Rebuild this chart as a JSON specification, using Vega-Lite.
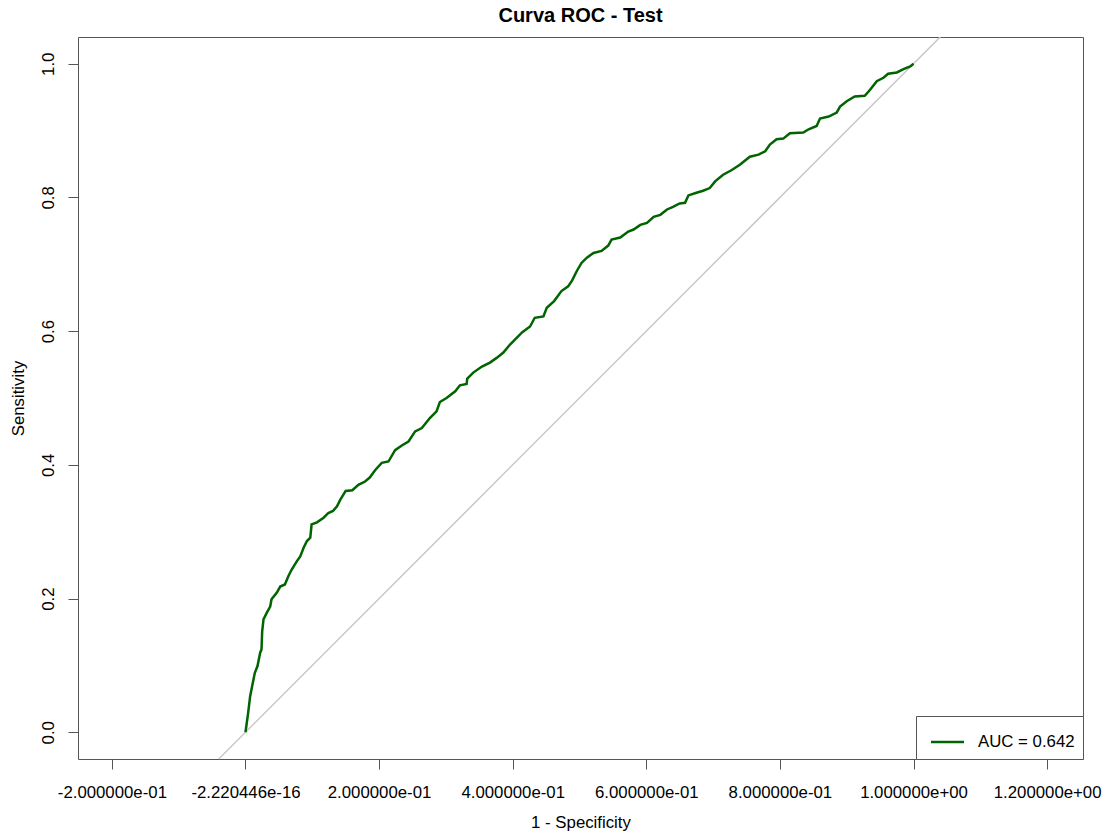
{
  "$schema": "https://vega.github.io/schema/vega-lite/v6.json",
  "width": 1005,
  "height": 722,
  "autosize": {"type": "none"},
  "padding": {"left": 78, "top": 37, "right": 27, "bottom": 73},
  "background": "white",
  "title": {"text": "Curva ROC - Test", "font": "Liberation Sans", "fontSize": 20, "fontWeight": "bold", "color": "#000000", "anchor": "middle", "offset": 8},
  "datasets": {
    "roc": [
      {"x": 0, "y": 0, "s": "AUC = 0.642"},
      {"x": 0.004, "y": 0.029, "s": "AUC = 0.642"},
      {"x": 0.007, "y": 0.054, "s": "AUC = 0.642"},
      {"x": 0.011, "y": 0.074, "s": "AUC = 0.642"},
      {"x": 0.014, "y": 0.089, "s": "AUC = 0.642"},
      {"x": 0.018, "y": 0.099, "s": "AUC = 0.642"},
      {"x": 0.022, "y": 0.119, "s": "AUC = 0.642"},
      {"x": 0.024, "y": 0.124, "s": "AUC = 0.642"},
      {"x": 0.025, "y": 0.151, "s": "AUC = 0.642"},
      {"x": 0.027, "y": 0.169, "s": "AUC = 0.642"},
      {"x": 0.032, "y": 0.179, "s": "AUC = 0.642"},
      {"x": 0.037, "y": 0.188, "s": "AUC = 0.642"},
      {"x": 0.039, "y": 0.199, "s": "AUC = 0.642"},
      {"x": 0.047, "y": 0.209, "s": "AUC = 0.642"},
      {"x": 0.052, "y": 0.218, "s": "AUC = 0.642"},
      {"x": 0.059, "y": 0.221, "s": "AUC = 0.642"},
      {"x": 0.064, "y": 0.233, "s": "AUC = 0.642"},
      {"x": 0.069, "y": 0.243, "s": "AUC = 0.642"},
      {"x": 0.077, "y": 0.256, "s": "AUC = 0.642"},
      {"x": 0.082, "y": 0.263, "s": "AUC = 0.642"},
      {"x": 0.087, "y": 0.276, "s": "AUC = 0.642"},
      {"x": 0.092, "y": 0.286, "s": "AUC = 0.642"},
      {"x": 0.097, "y": 0.291, "s": "AUC = 0.642"},
      {"x": 0.099, "y": 0.311, "s": "AUC = 0.642"},
      {"x": 0.107, "y": 0.314, "s": "AUC = 0.642"},
      {"x": 0.117, "y": 0.321, "s": "AUC = 0.642"},
      {"x": 0.124, "y": 0.328, "s": "AUC = 0.642"},
      {"x": 0.131, "y": 0.331, "s": "AUC = 0.642"},
      {"x": 0.137, "y": 0.338, "s": "AUC = 0.642"},
      {"x": 0.142, "y": 0.348, "s": "AUC = 0.642"},
      {"x": 0.150, "y": 0.361, "s": "AUC = 0.642"},
      {"x": 0.160, "y": 0.362, "s": "AUC = 0.642"},
      {"x": 0.169, "y": 0.370, "s": "AUC = 0.642"},
      {"x": 0.179, "y": 0.375, "s": "AUC = 0.642"},
      {"x": 0.186, "y": 0.381, "s": "AUC = 0.642"},
      {"x": 0.194, "y": 0.392, "s": "AUC = 0.642"},
      {"x": 0.204, "y": 0.403, "s": "AUC = 0.642"},
      {"x": 0.214, "y": 0.405, "s": "AUC = 0.642"},
      {"x": 0.224, "y": 0.422, "s": "AUC = 0.642"},
      {"x": 0.234, "y": 0.429, "s": "AUC = 0.642"},
      {"x": 0.244, "y": 0.435, "s": "AUC = 0.642"},
      {"x": 0.254, "y": 0.450, "s": "AUC = 0.642"},
      {"x": 0.264, "y": 0.455, "s": "AUC = 0.642"},
      {"x": 0.276, "y": 0.470, "s": "AUC = 0.642"},
      {"x": 0.286, "y": 0.480, "s": "AUC = 0.642"},
      {"x": 0.291, "y": 0.494, "s": "AUC = 0.642"},
      {"x": 0.301, "y": 0.500, "s": "AUC = 0.642"},
      {"x": 0.314, "y": 0.510, "s": "AUC = 0.642"},
      {"x": 0.321, "y": 0.519, "s": "AUC = 0.642"},
      {"x": 0.331, "y": 0.521, "s": "AUC = 0.642"},
      {"x": 0.332, "y": 0.529, "s": "AUC = 0.642"},
      {"x": 0.341, "y": 0.538, "s": "AUC = 0.642"},
      {"x": 0.354, "y": 0.547, "s": "AUC = 0.642"},
      {"x": 0.366, "y": 0.553, "s": "AUC = 0.642"},
      {"x": 0.376, "y": 0.560, "s": "AUC = 0.642"},
      {"x": 0.386, "y": 0.568, "s": "AUC = 0.642"},
      {"x": 0.396, "y": 0.580, "s": "AUC = 0.642"},
      {"x": 0.403, "y": 0.587, "s": "AUC = 0.642"},
      {"x": 0.414, "y": 0.598, "s": "AUC = 0.642"},
      {"x": 0.426, "y": 0.607, "s": "AUC = 0.642"},
      {"x": 0.433, "y": 0.620, "s": "AUC = 0.642"},
      {"x": 0.446, "y": 0.622, "s": "AUC = 0.642"},
      {"x": 0.451, "y": 0.635, "s": "AUC = 0.642"},
      {"x": 0.462, "y": 0.645, "s": "AUC = 0.642"},
      {"x": 0.473, "y": 0.660, "s": "AUC = 0.642"},
      {"x": 0.483, "y": 0.667, "s": "AUC = 0.642"},
      {"x": 0.489, "y": 0.676, "s": "AUC = 0.642"},
      {"x": 0.496, "y": 0.690, "s": "AUC = 0.642"},
      {"x": 0.503, "y": 0.702, "s": "AUC = 0.642"},
      {"x": 0.511, "y": 0.710, "s": "AUC = 0.642"},
      {"x": 0.521, "y": 0.717, "s": "AUC = 0.642"},
      {"x": 0.533, "y": 0.720, "s": "AUC = 0.642"},
      {"x": 0.543, "y": 0.728, "s": "AUC = 0.642"},
      {"x": 0.548, "y": 0.737, "s": "AUC = 0.642"},
      {"x": 0.561, "y": 0.740, "s": "AUC = 0.642"},
      {"x": 0.573, "y": 0.749, "s": "AUC = 0.642"},
      {"x": 0.581, "y": 0.752, "s": "AUC = 0.642"},
      {"x": 0.591, "y": 0.759, "s": "AUC = 0.642"},
      {"x": 0.601, "y": 0.762, "s": "AUC = 0.642"},
      {"x": 0.611, "y": 0.771, "s": "AUC = 0.642"},
      {"x": 0.621, "y": 0.774, "s": "AUC = 0.642"},
      {"x": 0.631, "y": 0.782, "s": "AUC = 0.642"},
      {"x": 0.640, "y": 0.786, "s": "AUC = 0.642"},
      {"x": 0.650, "y": 0.791, "s": "AUC = 0.642"},
      {"x": 0.658, "y": 0.792, "s": "AUC = 0.642"},
      {"x": 0.663, "y": 0.803, "s": "AUC = 0.642"},
      {"x": 0.675, "y": 0.807, "s": "AUC = 0.642"},
      {"x": 0.685, "y": 0.810, "s": "AUC = 0.642"},
      {"x": 0.695, "y": 0.814, "s": "AUC = 0.642"},
      {"x": 0.703, "y": 0.824, "s": "AUC = 0.642"},
      {"x": 0.715, "y": 0.834, "s": "AUC = 0.642"},
      {"x": 0.728, "y": 0.841, "s": "AUC = 0.642"},
      {"x": 0.740, "y": 0.849, "s": "AUC = 0.642"},
      {"x": 0.755, "y": 0.861, "s": "AUC = 0.642"},
      {"x": 0.768, "y": 0.864, "s": "AUC = 0.642"},
      {"x": 0.778, "y": 0.869, "s": "AUC = 0.642"},
      {"x": 0.785, "y": 0.879, "s": "AUC = 0.642"},
      {"x": 0.795, "y": 0.887, "s": "AUC = 0.642"},
      {"x": 0.805, "y": 0.888, "s": "AUC = 0.642"},
      {"x": 0.815, "y": 0.896, "s": "AUC = 0.642"},
      {"x": 0.835, "y": 0.897, "s": "AUC = 0.642"},
      {"x": 0.843, "y": 0.902, "s": "AUC = 0.642"},
      {"x": 0.855, "y": 0.907, "s": "AUC = 0.642"},
      {"x": 0.860, "y": 0.918, "s": "AUC = 0.642"},
      {"x": 0.873, "y": 0.921, "s": "AUC = 0.642"},
      {"x": 0.885, "y": 0.927, "s": "AUC = 0.642"},
      {"x": 0.890, "y": 0.936, "s": "AUC = 0.642"},
      {"x": 0.900, "y": 0.944, "s": "AUC = 0.642"},
      {"x": 0.912, "y": 0.951, "s": "AUC = 0.642"},
      {"x": 0.927, "y": 0.952, "s": "AUC = 0.642"},
      {"x": 0.935, "y": 0.961, "s": "AUC = 0.642"},
      {"x": 0.945, "y": 0.974, "s": "AUC = 0.642"},
      {"x": 0.955, "y": 0.979, "s": "AUC = 0.642"},
      {"x": 0.962, "y": 0.985, "s": "AUC = 0.642"},
      {"x": 0.975, "y": 0.987, "s": "AUC = 0.642"},
      {"x": 0.985, "y": 0.992, "s": "AUC = 0.642"},
      {"x": 0.995, "y": 0.996, "s": "AUC = 0.642"},
      {"x": 1, "y": 1, "s": "AUC = 0.642"}
    ],
    "diag": [
      {"x": -0.04, "y": -0.04},
      {"x": 1.04, "y": 1.04}
    ]
  },
  "config": {
    "view": {"stroke": "#555555", "strokeWidth": 1},
    "axis": {
      "grid": false,
      "domain": false,
      "tickColor": "#555555",
      "tickSize": 10,
      "tickWidth": 1,
      "labelFont": "Liberation Sans",
      "labelFontSize": 16.8,
      "labelColor": "#000000",
      "labelOverlap": false,
      "labelFlush": false,
      "titleFont": "Liberation Sans",
      "titleFontSize": 16.8,
      "titleColor": "#000000",
      "titleFontWeight": "normal"
    }
  },
  "layer": [
    {
      "data": {"name": "diag"},
      "mark": {"type": "line", "color": "#c8c8c8", "strokeWidth": 1.5},
      "encoding": {
        "x": {"field": "x", "type": "quantitative", "scale": {"domain": [-0.2507, 1.2537], "nice": false, "zero": false},
          "axis": {"values": [-0.2, 0, 0.2, 0.4, 0.6, 0.8, 1, 1.2],
            "labelExpr": "['-2.000000e-01','-2.220446e-16','2.000000e-01','4.000000e-01','6.000000e-01','8.000000e-01','1.000000e+00','1.200000e+00'][round(datum.value*5)+1]",
            "labelPadding": 15, "labelBaseline": "top",
            "title": "1 - Specificity", "titleX": 502.5, "titleY": 68, "titleAlign": "center", "titleBaseline": "alphabetic"}},
        "y": {"field": "y", "type": "quantitative", "scale": {"domain": [-0.04, 1.04], "nice": false, "zero": false},
          "axis": {"values": [0, 0.2, 0.4, 0.6, 0.8, 1], "format": ".1f", "labelAngle": -90, "labelAlign": "center", "labelBaseline": "bottom", "labelPadding": 10.7,
            "title": "Sensitivity", "titleAngle": -90, "titleX": -54.5, "titleY": 361, "titleAlign": "center", "titleBaseline": "alphabetic"}}
      }
    },
    {
      "data": {"name": "roc"},
      "mark": {"type": "line", "strokeWidth": 2.5},
      "encoding": {
        "x": {"field": "x", "type": "quantitative"},
        "y": {"field": "y", "type": "quantitative"},
        "color": {"field": "s", "type": "nominal", "scale": {"range": ["#006400"]},
          "legend": {"title": null, "orient": "bottom-right", "offset": 0, "padding": 8, "strokeColor": "#555555", "fillColor": "white",
            "symbolType": "stroke", "symbolSize": 1089, "symbolStrokeWidth": 2.5, "symbolOffset": 5.5, "labelOffset": 12.5,
            "labelFont": "Liberation Sans", "labelFontSize": 16.8, "labelColor": "#000000"}}
      }
    }
  ]
}
